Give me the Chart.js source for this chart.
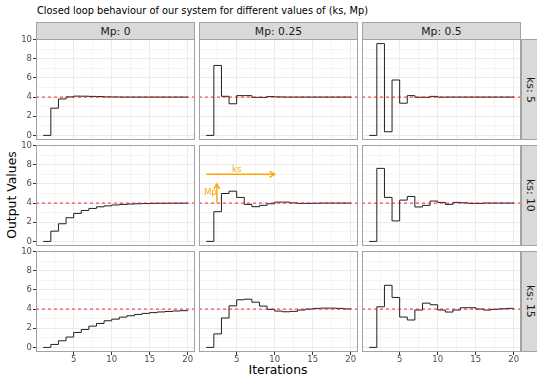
<!DOCTYPE html>
<html>
<head>
<meta charset="utf-8">
<script src="https://cdn.jsdelivr.net/npm/chart.js@4.4.1/dist/chart.umd.min.js"></script>
<style>
  html, body { margin: 0; padding: 0; background: #fff; }
  body { width: 537px; height: 375px; position: relative; overflow: hidden; font-family: 'DejaVu Sans', sans-serif; }
  canvas { position: absolute; }
  .strip { position: absolute; box-sizing: border-box; background: #d9d9d9; border: 1px solid #a3a3a3;
           color: #1a1a1a; font-size: 10.8px; display: flex; align-items: center; justify-content: center; white-space: nowrap; }
  .strip.right { writing-mode: vertical-rl; }
  .lbl { position: absolute; white-space: nowrap; color: #000; line-height: 1; }
</style>
</head>
<body>
<div class="lbl" style="left:37px;top:6px;font-size:9.8px">Closed loop behaviour of our system for different values of (ks, Mp)</div>
<div class="lbl" style="left:12px;top:195px;font-size:12.4px;transform:translate(-50%,-50%) rotate(-90deg)">Output Values</div>
<div class="lbl" style="left:278px;top:364px;font-size:12.4px;transform:translateX(-50%)">Iterations</div>

<script>
// ── data ────────────────────────────────────────────────────────────────
const iterations = [1,2,3,4,5,6,7,8,9,10,11,12,13,14,15,16,17,18,19,20];
const mpValues = [0, 0.25, 0.5];
const ksValues = [5, 10, 15];
const target = 4;

const ks5_mp0    = [0, 2.84, 3.8, 4.02, 4.1, 4.09, 4.07, 4.05, 4.02, 4.01, 4.0, 4.0, 4.0, 4.0, 4.0, 4.0, 4.0, 4.0, 4.0, 4.0];
const ks5_mp025  = [0, 7.3, 4.08, 3.3, 4.15, 4.15, 3.97, 3.97, 4.05, 4.02, 4.0, 4.0, 4.0, 4.0, 4.0, 4.0, 4.0, 4.0, 4.0, 4.0];
const ks5_mp05   = [0, 9.58, 0.38, 5.78, 3.36, 4.15, 3.98, 3.98, 4.07, 3.99, 4.0, 4.0, 4.0, 4.0, 4.0, 4.0, 4.0, 4.0, 4.0, 4.0];
const ks10_mp0   = [0, 1.07, 1.84, 2.47, 2.92, 3.23, 3.44, 3.61, 3.71, 3.8, 3.86, 3.9, 3.93, 3.95, 3.97, 3.98, 3.98, 3.99, 3.99, 4.0];
const ks10_mp025 = [0, 3.1, 5.0, 5.24, 4.59, 3.86, 3.62, 3.76, 3.93, 4.1, 4.1, 4.02, 3.97, 3.97, 3.98, 4.0, 4.0, 4.0, 4.0, 4.0];
const ks10_mp05  = [0, 7.62, 4.59, 2.14, 4.31, 4.69, 3.59, 3.76, 4.21, 4.07, 3.86, 4.07, 4.03, 3.97, 3.97, 4.0, 4.0, 4.0, 4.0, 4.0];
const ks15_mp0   = [0, 0.31, 0.69, 1.08, 1.56, 1.87, 2.22, 2.5, 2.78, 2.95, 3.16, 3.3, 3.44, 3.55, 3.63, 3.7, 3.75, 3.8, 3.83, 3.86];
const ks15_mp025 = [0, 1.41, 3.07, 4.34, 4.97, 5.03, 4.72, 4.31, 3.97, 3.79, 3.72, 3.76, 3.9, 4.0, 4.07, 4.1, 4.1, 4.07, 4.02, 4.0];
const ks15_mp05  = [0, 4.24, 6.48, 5.21, 3.17, 2.86, 3.9, 4.62, 4.45, 3.9, 3.69, 3.9, 4.14, 4.14, 4.0, 3.9, 3.97, 4.03, 4.07, 4.05];

const series = [
  [ks5_mp0, ks5_mp025, ks5_mp05],
  [ks10_mp0, ks10_mp025, ks10_mp05],
  [ks15_mp0, ks15_mp025, ks15_mp05]
];

const xMajorTicks = [5, 10, 15, 20];
const xMinorTicks = [2.5, 7.5, 12.5, 17.5];
const yMajorTicks = [0, 2, 4, 6, 8, 10];
const yMinorTicks = [1, 3, 5, 7, 9];

// annotation in the ks: 10 / Mp: 0.25 panel (data coords)
const ksArrow = { x0: 1, x1: 10, y: 7, textX: 5, textY: 7.5 };
const mpArrow = { x: 2.4, y0: 4, y1: 6, textX: 1.53, textY: 5.05 };

// ── layout ──────────────────────────────────────────────────────────────
const X_MIN = 0.05, X_MAX = 20.95;
const Y_MIN = -0.48, Y_MAX = 10.06;
const COL_LEFT = [36, 199, 362], PANEL_W = 159;
const ROW_TOP = [39, 145, 251], PANEL_H = 101;
const PAD = 8;

Chart.defaults.font.family = "'DejaVu Sans', sans-serif";
Chart.defaults.color = '#4d4d4d';

const panelFrame = {
  id: 'panelFrame',
  afterDraw(chart) {
    const { ctx, chartArea: a } = chart;
    ctx.save();
    ctx.strokeStyle = '#a3a3a3';
    ctx.lineWidth = 1;
    ctx.strokeRect(Math.round(a.left) + 0.5, Math.round(a.top) + 0.5,
                   Math.round(a.right - a.left) - 1, Math.round(a.bottom - a.top) - 1);
    ctx.restore();
  }
};

function arrowHead(ctx, x, y, ang) {
  const len = 6, spread = Math.PI / 6;
  ctx.beginPath();
  ctx.moveTo(x - len * Math.cos(ang - spread), y - len * Math.sin(ang - spread));
  ctx.lineTo(x, y);
  ctx.lineTo(x - len * Math.cos(ang + spread), y - len * Math.sin(ang + spread));
  ctx.stroke();
}

const annotations = {
  id: 'annotations',
  afterDatasetsDraw(chart) {
    const { ctx, scales: { x, y } } = chart;
    ctx.save();
    ctx.strokeStyle = '#ffa500';
    ctx.fillStyle = '#ffa500';
    ctx.lineWidth = 1.4;
    ctx.lineCap = 'butt';
    // ks arrow
    const kx0 = x.getPixelForValue(ksArrow.x0), kx1 = x.getPixelForValue(ksArrow.x1);
    const ky = y.getPixelForValue(ksArrow.y);
    ctx.beginPath(); ctx.moveTo(kx0, ky); ctx.lineTo(kx1, ky); ctx.stroke();
    arrowHead(ctx, kx1, ky, 0);
    // Mp arrow
    const mx = x.getPixelForValue(mpArrow.x);
    const my0 = y.getPixelForValue(mpArrow.y0), my1 = y.getPixelForValue(mpArrow.y1);
    ctx.beginPath(); ctx.moveTo(mx, my0); ctx.lineTo(mx, my1); ctx.stroke();
    arrowHead(ctx, mx, my1, -Math.PI / 2);
    ctx.font = "8.5px 'DejaVu Sans', sans-serif";
    ctx.textAlign = 'center';
    ctx.textBaseline = 'middle';
    ctx.fillText('ks', x.getPixelForValue(ksArrow.textX), y.getPixelForValue(ksArrow.textY));
    ctx.fillText('Mp', x.getPixelForValue(mpArrow.textX), y.getPixelForValue(mpArrow.textY));
    ctx.restore();
  }
};

function isMajor(list, v) { return list.indexOf(v) !== -1; }

function makePanel(r, c) {
  const yAxisW = c === 0 ? 36 : 0;
  const xAxisH = r === 2 ? 14 : 0;
  const padL = c === 0 ? 0 : PAD;
  const padB = r === 2 ? 2 : PAD;

  const canvas = document.createElement('canvas');
  canvas.width = padL + yAxisW + PANEL_W + PAD;
  canvas.height = PAD + PANEL_H + xAxisH + padB;
  canvas.style.left = (COL_LEFT[c] - yAxisW - padL) + 'px';
  canvas.style.top = (ROW_TOP[r] - PAD) + 'px';
  document.body.appendChild(canvas);

  const values = series[r][c];
  const plugins = [panelFrame];
  if (r === 1 && c === 1) plugins.push(annotations);

  new Chart(canvas, {
    type: 'line',
    data: {
      datasets: [{
        data: [{ x: X_MIN, y: target }, { x: X_MAX, y: target }],
        borderColor: 'rgba(255,0,0,0.85)',
        borderWidth: 1,
        borderDash: [3, 3],
        pointRadius: 0,
        order: 0
      }, {
        data: iterations.map((it, i) => ({ x: it, y: values[i] })),
        borderColor: '#1f1f1f',
        borderWidth: 1,
        stepped: 'before',
        pointRadius: 0,
        order: 1
      }]
    },
    options: {
      responsive: false,
      animation: false,
      events: [],
      layout: { padding: { left: padL, top: PAD, right: PAD, bottom: padB } },
      plugins: { legend: { display: false }, tooltip: { enabled: false } },
      scales: {
        x: {
          type: 'linear', min: X_MIN, max: X_MAX,
          border: { display: false },
          afterBuildTicks: s => { s.ticks = xMinorTicks.concat(xMajorTicks).sort((a, b) => a - b).map(v => ({ value: v })); },
          afterFit: s => { s.height = xAxisH; s.paddingLeft = s.paddingRight = s.paddingTop = s.paddingBottom = 0; },
          ticks: {
            display: r === 2, autoSkip: false, maxRotation: 0, padding: 0,
            font: { size: 8.5 }, color: '#4d4d4d',
            callback: v => isMajor(xMajorTicks, v) ? String(v) : ''
          },
          grid: {
            drawTicks: r === 2, tickLength: 3,
            color: ctx => isMajor(xMajorTicks, ctx.tick.value) ? '#ebebeb' : '#f4f4f4',
            lineWidth: 1,
            tickColor: ctx => isMajor(xMajorTicks, ctx.tick.value) ? '#333333' : 'transparent',
            tickWidth: 1
          }
        },
        y: {
          type: 'linear', min: Y_MIN, max: Y_MAX,
          border: { display: false },
          afterBuildTicks: s => { s.ticks = yMinorTicks.concat(yMajorTicks).sort((a, b) => a - b).map(v => ({ value: v })); },
          afterFit: s => { s.width = yAxisW; s.paddingLeft = s.paddingRight = s.paddingTop = s.paddingBottom = 0; },
          ticks: {
            display: c === 0, autoSkip: false, padding: 1,
            font: { size: 8.5 }, color: '#4d4d4d',
            callback: v => isMajor(yMajorTicks, v) ? String(v) : ''
          },
          grid: {
            drawTicks: c === 0, tickLength: 3,
            color: ctx => isMajor(yMajorTicks, ctx.tick.value) ? '#ebebeb' : '#f4f4f4',
            lineWidth: 1,
            tickColor: ctx => isMajor(yMajorTicks, ctx.tick.value) ? '#333333' : 'transparent',
            tickWidth: 1
          }
        }
      }
    },
    plugins
  });
}

function addStrip(text, left, top, w, h, right) {
  const d = document.createElement('div');
  d.className = 'strip' + (right ? ' right' : '');
  d.style.left = left + 'px'; d.style.top = top + 'px';
  d.style.width = w + 'px'; d.style.height = h + 'px';
  d.textContent = text;
  document.body.appendChild(d);
}

for (let c = 0; c < 3; c++) addStrip('Mp: ' + mpValues[c], COL_LEFT[c], 22, PANEL_W, 18, false);
for (let r = 0; r < 3; r++) addStrip('ks: ' + ksValues[r], 521, ROW_TOP[r], 19, PANEL_H, true);
for (let r = 0; r < 3; r++) for (let c = 0; c < 3; c++) makePanel(r, c);
</script>
</body>
</html>
